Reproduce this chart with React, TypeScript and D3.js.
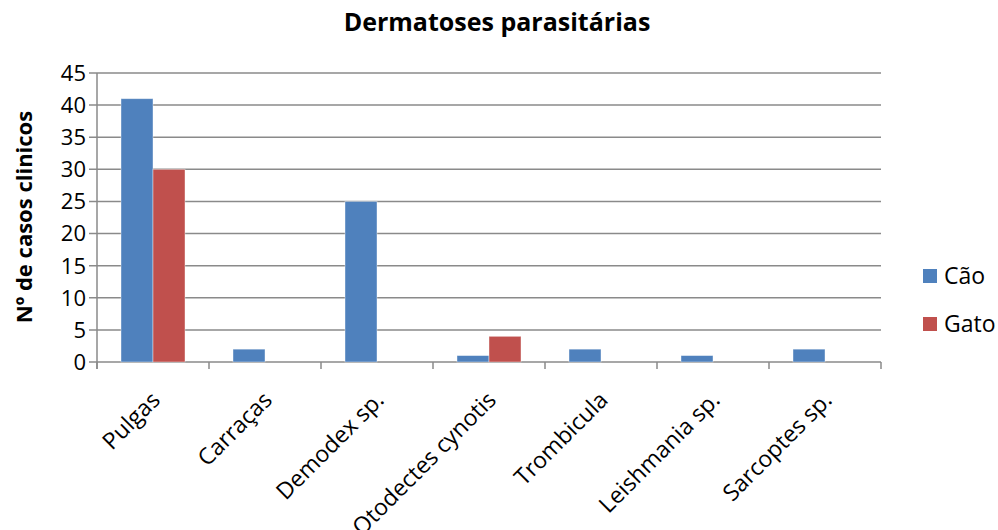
import React from 'react';
import * as d3 from 'd3';

const categories = ['Pulgas', 'Carraças', 'Demodex sp.', 'Otodectes cynotis', 'Trombicula', 'Leishmania sp.', 'Sarcoptes sp.'];
const seriesNames = ['Cão', 'Gato'];
const caoValues = [41, 2, 25, 1, 2, 1, 2];
const gatoValues = [30, 0, 0, 4, 0, 0, 0];
const yTicks = [0, 5, 10, 15, 20, 25, 30, 35, 40, 45];
const colors = ['#4F81BD', '#C0504D'];

const W = 998;
const H = 530;
const margin = { left: 97, right: 117, top: 73, bottom: 168 };
const FONT = '"Open Sans", sans-serif';

const App: React.FC = () => {
  const innerW = W - margin.left - margin.right;
  const innerH = H - margin.top - margin.bottom;

  const x = d3.scaleBand<string>().domain(categories).range([0, innerW]).paddingInner(0).paddingOuter(0);
  const x1 = d3.scaleBand<string>().domain(seriesNames).range([24, x.bandwidth() - 24]);
  const y = d3.scaleLinear().domain([0, 45]).range([innerH, 0]);

  const series = [caoValues, gatoValues];
  const boundaries = d3.range(categories.length + 1).map(i => i * x.bandwidth());

  return (
    <svg width={W} height={H} style={{ position: 'absolute', left: 0, top: 0, fontFamily: FONT }}>
      <rect width={W} height={H} fill="#fff" />
      <text x={497} y={31} textAnchor="middle" fontSize={25} fontWeight="bold" fill="#000">
        Dermatoses parasitárias
      </text>
      <g transform={`translate(${margin.left},${margin.top})`}>
        {yTicks.map(t => (
          <g key={t}>
            <line x1={-8} x2={innerW} y1={y(t)} y2={y(t)} stroke="#8a8a8a" strokeWidth={1.5} />
            <text x={-11} y={y(t)} dy="0.36em" textAnchor="end" fontSize={22} fill="#000">{t}</text>
          </g>
        ))}
        <line x1={0} x2={0} y1={0} y2={innerH + 7} stroke="#8a8a8a" strokeWidth={1.5} />
        {boundaries.map((b, i) => (
          <line key={i} x1={b} x2={b} y1={innerH} y2={innerH + 7} stroke="#8a8a8a" strokeWidth={1.5} />
        ))}
        {categories.map((c, ci) => (
          <g key={c} transform={`translate(${x(c)},0)`}>
            {series.map((vals, si) => vals[ci] > 0 ? (
              <rect key={si} x={x1(seriesNames[si])} width={x1.bandwidth()} y={y(vals[ci])}
                height={innerH - y(vals[ci])} fill={colors[si]} stroke="#ffffff" strokeOpacity={0.5} strokeWidth={0.8} />
            ) : null)}
          </g>
        ))}
        {categories.map(c => {
          const cx = (x(c) ?? 0) + x.bandwidth() / 2 - 3;
          const cy = innerH + 28;
          return (
            <text key={c} transform={`translate(${cx},${cy}) rotate(-45)`} textAnchor="end" dy="0.7em" fontSize={23} fill="#000">
              {c}
            </text>
          );
        })}
      </g>
      <text transform={`translate(32,217) rotate(-90)`} textAnchor="middle" fontSize={22} fontWeight="bold" fill="#000">
        Nº de casos clinicos
      </text>
      {seriesNames.map((s, i) => (
        <g key={s} transform={`translate(923,${269 + i * 48})`}>
          <rect width={14} height={14} fill={colors[i]} />
          <text x={21} y={7} dy="0.36em" fontSize={23} fill="#000">{s}</text>
        </g>
      ))}
    </svg>
  );
};

export default App;
